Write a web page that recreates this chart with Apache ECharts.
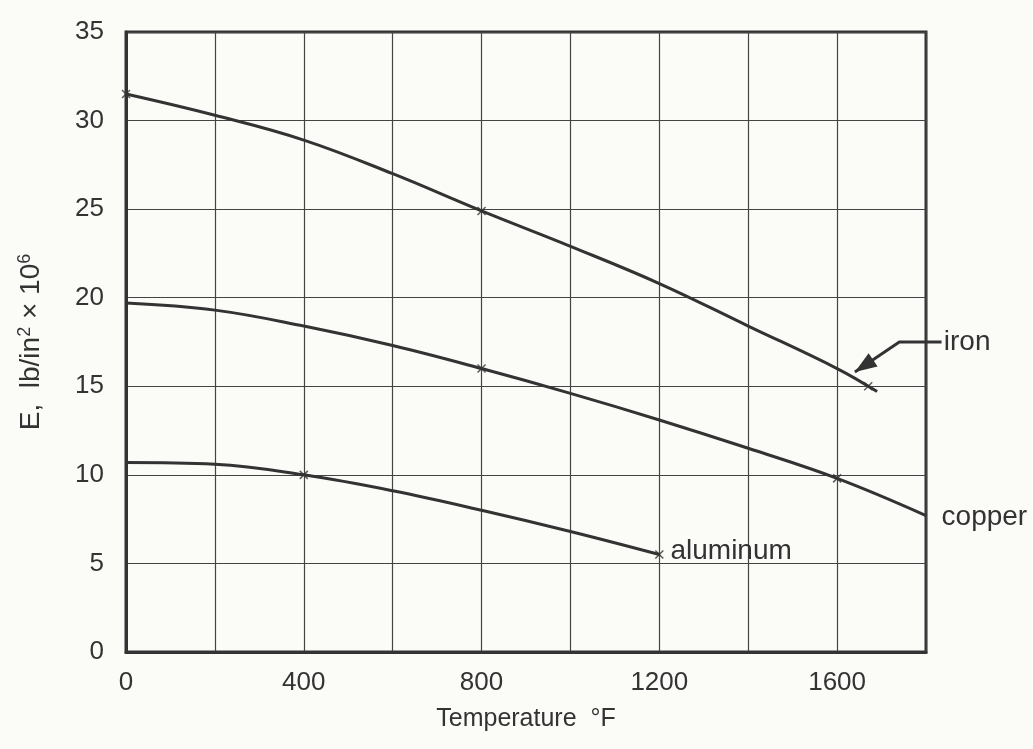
<!DOCTYPE html>
<html>
<head>
<meta charset="utf-8">
<script src="https://cdn.jsdelivr.net/npm/echarts@6/dist/echarts.min.js"></script>
<style>
html,body{margin:0;padding:0;background:#fbfbf8;}
#c{width:1033px;height:749px;}
</style>
</head>
<body>
<div id="c"></div>
<script>
// Data (x = temperature °F, y = E in lb/in² × 10^6)
const ironData = [[0,31.5],[200,30.3],[400,28.9],[600,27.0],[800,24.9],[1000,22.9],[1200,20.8],[1400,18.4],[1600,16.0],[1690,14.7]];
const copperData = [[0,19.7],[200,19.3],[400,18.4],[600,17.3],[800,16.0],[1000,14.6],[1200,13.1],[1400,11.5],[1600,9.8],[1800,7.7]];
const aluminumData = [[0,10.7],[200,10.6],[400,10.0],[600,9.1],[800,8.0],[1000,6.8],[1200,5.5]];
const markerPoints = [[0,31.5],[800,24.9],[1670,15.0],[800,16.0],[1600,9.8],[400,10.0],[1200,5.5]];
const xLabels = [0,400,800,1200,1600];
const seriesLabels = [
  {text:'iron', at:[1840,17.5]},
  {text:'copper', at:[1835,7.6]},
  {text:'aluminum', at:[1225,5.7]}
];
const ironArrow = [[1835,17.5],[1740,17.5],[1640,15.8]];

const INK = '#333';
const FONT = 'Liberation Sans, Arial, sans-serif';
const chart = echarts.init(document.getElementById('c'));
const lineStyle = {color: INK, width: 3};
chart.setOption({
  backgroundColor: '#fbfbf8',
  animation: false,
  textStyle: {fontFamily: FONT},
  grid: {left: 126, right: 107, top: 32, bottom: 97, show: true, borderColor: INK, borderWidth: 3, backgroundColor: 'transparent'},
  xAxis: {
    type: 'value', min: 0, max: 1800, interval: 200,
    name: 'Temperature  °F', nameLocation: 'middle', nameGap: 55,
    nameTextStyle: {fontSize: 25, color: INK},
    axisLine: {show: true, lineStyle: {color: INK, width: 3}},
    axisTick: {show: false},
    axisLabel: {fontSize: 26, color: INK, margin: 18,
      formatter: v => xLabels.includes(v) ? String(v) : ''},
    splitLine: {show: true, lineStyle: {color: '#444', width: 1.2}}
  },
  yAxis: {
    type: 'value', min: 0, max: 35, interval: 5,
    name: '{n|E,  lb/in}{s|2}{n| × 10}{s|6}', nameLocation: 'middle', nameGap: 80, nameRotate: 90,
    nameTextStyle: {color: INK, rich: {
      n: {fontSize: 28, color: INK, fontFamily: FONT},
      s: {fontSize: 18, color: INK, verticalAlign: 'top', padding: [0,0,12,0], fontFamily: FONT}
    }},
    axisLine: {show: true, lineStyle: {color: INK, width: 3}},
    axisTick: {show: false},
    axisLabel: {fontSize: 26, color: INK, margin: 22},
    splitLine: {show: true, lineStyle: {color: '#444', width: 1.2}}
  },
  series: [
    {name: 'iron', type: 'line', data: ironData, smooth: 0.4, showSymbol: false, lineStyle, z: 3},
    {name: 'copper', type: 'line', data: copperData, smooth: 0.4, showSymbol: false, lineStyle, z: 3},
    {name: 'aluminum', type: 'line', data: aluminumData, smooth: 0.4, showSymbol: false, lineStyle, z: 3},
    {name: 'marks', type: 'scatter', data: markerPoints, symbol: 'path://M0,0L10,10M10,0L0,10', symbolSize: 8,
      itemStyle: {color: 'none', borderColor: INK, borderWidth: 1.5}, z: 4}
  ]
});

function drawAnnotations() {
  const px = p => chart.convertToPixel({gridIndex: 0}, p);
  const elements = seriesLabels.map(l => {
    const p = px(l.at);
    return {type: 'text', x: p[0], y: p[1], style: {text: l.text, fill: INK, fontSize: 28,
      fontFamily: FONT, textAlign: 'left', textVerticalAlign: 'middle'}};
  });
  const pts = ironArrow.map(px);
  elements.push({type: 'polyline', shape: {points: pts}, style: {stroke: INK, lineWidth: 3, fill: 'none'}});
  const a = pts[pts.length-1], b = pts[pts.length-2];
  const ang = Math.atan2(a[1]-b[1], a[0]-b[0]);
  const L = 22, W = 8;
  const back = [a[0]-L*Math.cos(ang), a[1]-L*Math.sin(ang)];
  const nx = -Math.sin(ang), ny = Math.cos(ang);
  elements.push({type: 'polygon', shape: {points: [a, [back[0]+W*nx, back[1]+W*ny], [back[0]-W*nx, back[1]-W*ny]]},
    style: {fill: INK}});
  chart.setOption({graphic: elements});
}
drawAnnotations();
</script>
</body>
</html>
